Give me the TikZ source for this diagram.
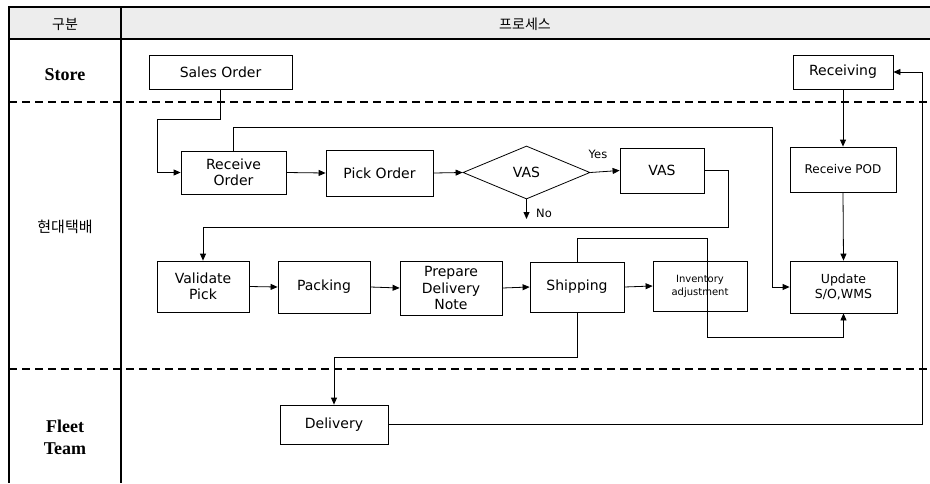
\documentclass[tikz,border=0pt]{standalone}
\usepackage{fontspec}
\setmainfont{DejaVu Sans}
\newfontfamily\serifb{Liberation Serif}
\newfontfamily\kr{Noto Sans CJK KR}
\usetikzlibrary{shapes.geometric,arrows.meta}
\begin{document}
\begin{tikzpicture}[x=1pt,y=-1pt,
  box/.style={draw,line width=0.8pt,inner sep=0pt,align=center,font=\fontsize{14}{16.5}\selectfont},
  arr/.style={line width=0.8pt,-{Triangle[length=7pt,width=6pt]}},
  thick border/.style={line width=2.2pt},
  lane/.style={line width=1.4pt,dash pattern=on 8pt off 5pt},
  rowlabel/.style={font=\serifb\bfseries\fontsize{18}{22}\selectfont,align=center},
  lbl/.style={font=\fontsize{11.5}{13}\selectfont,inner sep=0pt}
]
\useasboundingbox (0,0) rectangle (930,483);
% header
\fill[gray!14] (9,7) rectangle (930,39);
\draw[thick border] (9,7) -- (930,7);
\draw[thick border] (9,39) -- (930,39);
\draw[thick border] (9,6) -- (9,483);
\draw[thick border] (121,6) -- (121,483);
\draw[lane] (9,102) -- (930,102);
\draw[lane] (9,369) -- (930,369);
\node[font=\kr\fontsize{14}{16}\selectfont] (hgubun) at (65,24) {구분};
\node[font=\kr\fontsize{14}{16}\selectfont] (hproc) at (525,24) {프로세스};
\node[rowlabel] (rstore) at (65,75) {Store};
\node[font=\kr\fontsize{15}{18}\selectfont] (rhd) at (65,227) {현대택배};
\node[rowlabel] (rfleet) at (65,437) {Fleet\\Team};
% boxes
\node[box,minimum width=143pt,minimum height=34pt] (so) at (220.5,72) {Sales Order};
\node[box,minimum width=100pt,minimum height=34pt] (rcv) at (843,72) {Receiving};
\node[box,minimum width=105pt,minimum height=43pt] (ro) at (233.5,172.5) {Receive\\Order};
\node[box,minimum width=107pt,minimum height=46pt] (po) at (379.5,173) {Pick Order};
\node[box,diamond,minimum width=127pt,minimum height=53pt] (vasd) at (526.5,172.5) {VAS};
\node[box,minimum width=84pt,minimum height=45pt] (vas) at (662,170.5) {VAS};
\node[box,minimum width=106pt,minimum height=45pt,font=\fontsize{12}{14}\selectfont] (pod) at (843,169.5) {Receive POD};
\node[box,minimum width=92pt,minimum height=51pt] (vp) at (203,286.5) {Validate\\Pick};
\node[box,minimum width=92pt,minimum height=52pt] (pk) at (324,287) {Packing};
\node[box,minimum width=102pt,minimum height=54pt] (pd) at (451,288) {Prepare\\Delivery\\Note};
\node[box,minimum width=94pt,minimum height=50pt] (sh) at (577,287) {Shipping};
\node[box,minimum width=94pt,minimum height=50pt,font=\fontsize{10}{13}\selectfont] (inv) at (700,286) {Inventory\\adjustment};
\node[box,minimum width=107pt,minimum height=52pt,font=\fontsize{12.5}{15}\selectfont] (up) at (843.5,287) {Update\\S/O,WMS};
\node[box,minimum width=108pt,minimum height=39pt] (dl) at (334,424.5) {Delivery};
% helper coordinates
\coordinate (c1) at (157,119);
\coordinate (c2) at (772,127);
\coordinate (c3) at (728,227);
\coordinate (c4) at (707,238);
\coordinate (c5) at (707,337);
\coordinate (c6) at (334,357);
\coordinate (c7) at (922,72);
\coordinate (noend) at (526.5,219);
% connectors
\draw[arr] (so.south) |- (c1) |- (ro.west);
\draw[arr] (ro.north) |- (c2) |- (up.west);
\draw[arr] (ro.east) -- (po.west);
\draw[arr] (po.east) -- (vasd.west);
\draw[arr] (vasd.east) -- (vas.west);
\draw[arr] (vasd.south) -- (noend);
\node[lbl] (yes) at (598,154) {Yes};
\node[lbl] (no) at (544,213) {No};
\draw[arr] (vas.east) -| (c3) -| (vp.north);
\draw[arr] (vp.east) -- (pk.west);
\draw[arr] (pk.east) -- (pd.west);
\draw[arr] (pd.east) -- (sh.west);
\draw[arr] (sh.east) -- (inv.west);
\draw[arr] (sh.north) |- (c4) -- (c5) -| (up.south);
\draw[arr] (sh.south) |- (c6) -- (dl.north);
\draw[arr] (dl.east) -| (c7) -- (rcv.east);
\draw[arr] (rcv.south) -- (pod.north);
\draw[arr] (pod.south) -- (up.north);
\end{tikzpicture}
\end{document}
